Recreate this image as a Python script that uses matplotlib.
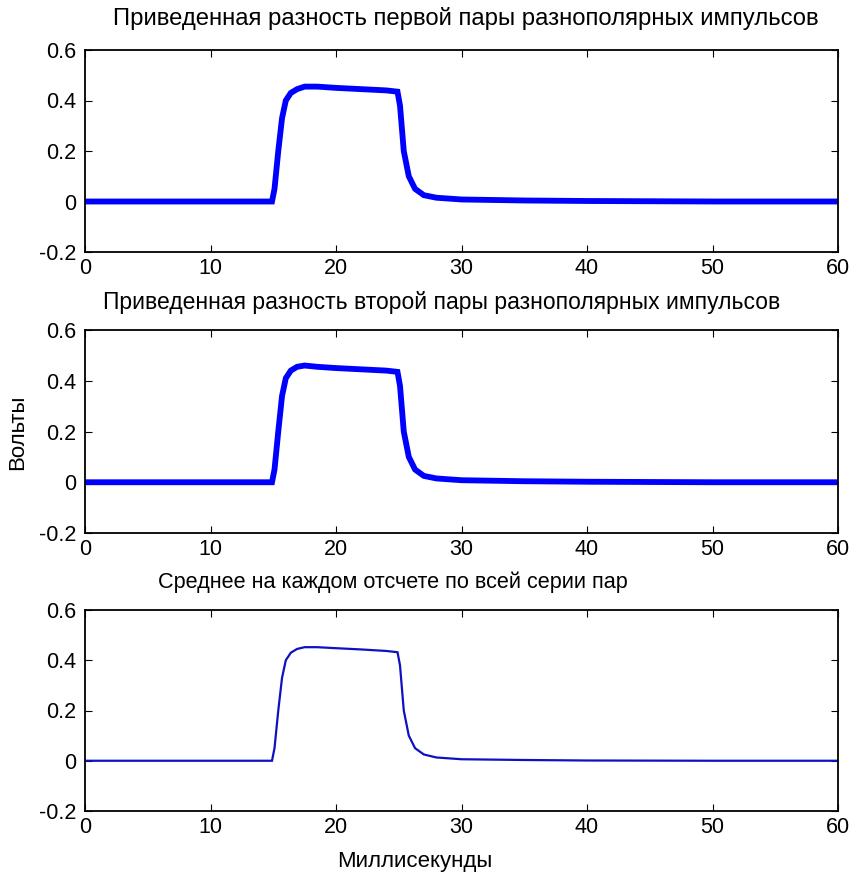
import matplotlib
matplotlib.use("Agg")
import matplotlib.pyplot as plt

plt.rcParams["font.family"] = ["Liberation Sans", "DejaVu Sans"]

# time points (ms)
t_pulse = [0, 5, 10, 14.9, 15.1, 15.4, 15.7, 16.0, 16.4, 16.9, 17.5, 18.5, 20, 22, 24,
           24.9, 25.1, 25.4, 25.8, 26.3, 27, 28, 30, 35, 40, 50, 60]
v_first = [0.0, 0.0, 0.0, 0.0, 0.05, 0.2, 0.33, 0.4, 0.43, 0.445, 0.455, 0.455, 0.45,
           0.445, 0.44, 0.435, 0.38, 0.2, 0.1, 0.05, 0.025, 0.015, 0.008, 0.004, 0.002,
           0.0, 0.0]
v_second = [0.0, 0.0, 0.0, 0.0, 0.05, 0.2, 0.34, 0.41, 0.44, 0.455, 0.46, 0.455, 0.45,
            0.445, 0.44, 0.435, 0.38, 0.2, 0.1, 0.05, 0.025, 0.015, 0.008, 0.004, 0.002,
            0.0, 0.0]
v_mean = [0.0, 0.0, 0.0, 0.0, 0.05, 0.2, 0.33, 0.4, 0.43, 0.445, 0.452, 0.452, 0.448,
          0.443, 0.437, 0.432, 0.38, 0.2, 0.1, 0.05, 0.025, 0.013, 0.006, 0.003, 0.001,
          0.0, 0.0]

titles = ["Приведенная разность первой пары разнополярных импульсов",
          "Приведенная разность второй пары разнополярных импульсов",
          "Среднее на каждом отсчете по всей серии пар"]
title_x = [0.506, 0.473, 0.409]
title_size = [17.2, 16.5, 15.6]
title_gap = [32, 28, 28]
xticks = [0, 10, 20, 30, 40, 50, 60]
yticks = [-0.2, 0, 0.2, 0.4, 0.6]
ytick_labels = ["-0.2", "0", "0.2", "0.4", "0.6"]

W, H = 852, 882
fig = plt.figure(figsize=(W / 100, H / 100), dpi=100)

# axes boxes in pixels: left, top, right, bottom
boxes = [(85, 50, 838, 252), (85, 330, 838, 533), (85, 610, 838, 811)]
series = [v_first, v_second, v_mean]
widths = [4.2, 4.2, 1.6]
colors = ["#0000ff", "#0000ff", "#1010c0"]

for i, ((l, t, r, b), vals) in enumerate(zip(boxes, series)):
    ax = fig.add_axes([l / W, 1 - b / H, (r - l) / W, (b - t) / H])
    ax.plot(t_pulse, vals, color=colors[i], lw=widths[i], solid_joinstyle="miter")
    ax.set_xlim(0, 60)
    ax.set_ylim(-0.2, 0.6)
    ax.set_xticks(xticks)
    ax.set_yticks(yticks)
    ax.set_yticklabels(ytick_labels)
    ax.tick_params(direction="in", length=5, labelsize=15.5, top=True, right=True,
                   pad=6)
    ax.tick_params(axis="x", pad=4)
    for sp in ax.spines.values():
        sp.set_linewidth(1.3)
    fig.text((l + title_x[i] * (r - l)) / W, 1 - (t - title_gap[i]) / H, titles[i],
             ha="center", va="center", fontsize=title_size[i])

fig.text(18 / W, 1 - 432 / H, "Вольты", rotation=90, ha="center", va="center",
         fontsize=16)
fig.text(415 / W, 1 - 862 / H, "Миллисекунды", ha="center", va="center",
         fontsize=16)

fig.savefig("out.png", dpi=100, facecolor="white")
